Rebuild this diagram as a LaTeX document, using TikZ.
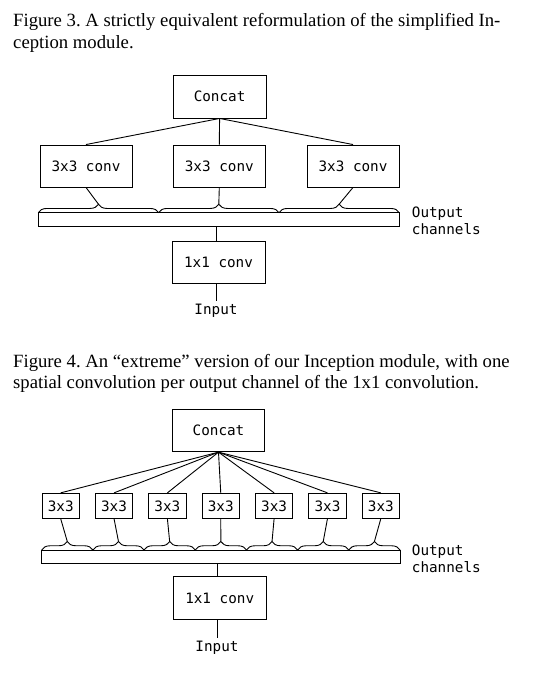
\documentclass[tikz,border=0pt]{standalone}
\usepackage{fontspec}
\setmainfont{Liberation Serif}
\newfontfamily\diagfont{DejaVu Sans Mono}
\usetikzlibrary{decorations.pathreplacing,calc}
\frenchspacing
\begin{document}
\begin{tikzpicture}[x=1pt,y=-1pt,
  box/.style={draw, line width=0.9pt, inner sep=0pt, font=\diagfont\fontsize{14.3}{17}\selectfont},
  wire/.style={line width=0.9pt},
  capt/.style={anchor=base west, inner sep=0pt, font=\fontsize{18.7}{22}\selectfont},
  lbl/.style={inner sep=0pt, font=\diagfont\fontsize{14.3}{17}\selectfont},
  brc/.style={decorate, decoration={brace, amplitude=8.5pt}, line width=0.9pt}]
\useasboundingbox (0,0) rectangle (543,676);

% ---------- Figure 3 ----------
\node[capt] (c3a) at (13,26.5) {Figure 3. A strictly equivalent reformulation of the simplified In-};
\node[capt] (c3b) at (13,48.5) {ception module.};

\node[box, minimum width=93pt, minimum height=43pt] (cc3) at (219.6,96.5) {Concat};
\foreach \i/\x in {1/86,2/219.3,3/353}
  \node[box, minimum width=92pt, minimum height=42pt] (k\i) at (\x,166) {3x3 conv};
\node[box, minimum width=361pt, minimum height=13.3pt] (bar3) at (218.8,219.35) {};
\foreach \i in {1,2,3}{
  \pgfmathsetmacro{\xa}{38.3+120.33*(\i-1)}
  \pgfmathsetmacro{\xb}{\xa+120.33}
  \pgfmathsetmacro{\xm}{\xa+60.17}
  \draw[brc] (\xa,212.7) -- (\xb,212.7);
  \coordinate (t3\i) at (\xm,204.2);
  \draw[wire] (k\i.south) -- (t3\i);
  \draw[wire] (cc3.south) -- (k\i.north);
}
\node[lbl, anchor=west, align=left] (oc3) at (411.7,221) {Output\\channels};
\node[box, minimum width=93pt, minimum height=42pt] (m3) at (218.5,262) {1x1 conv};
\node[lbl] (in3) at (216,311) {Input};
\draw[wire] (bar3.south -| in3) -- (m3.north -| in3);
\draw[wire] (m3.south -| in3) -- ($(in3.north)+(0,-3)$);

% ---------- Figure 4 ----------
\node[capt] (c4a) at (13,367) {Figure 4. An “extreme” version of our Inception module, with one};
\node[capt] (c4b) at (13,388.5) {spatial convolution per output channel of the 1x1 convolution.};

\node[box, minimum width=91.6pt, minimum height=42.4pt] (cc4) at (218.5,430.5) {Concat};
\node[box, minimum width=358.3pt, minimum height=13.3pt] (bar4) at (220.85,556.65) {};
\foreach \i in {1,...,7}{
  \pgfmathsetmacro{\xc}{60.7+53.35*(\i-1)}
  \node[box, minimum width=37.5pt, minimum height=25pt] (s\i) at (\xc,505.8) {3x3};
  \pgfmathsetmacro{\xa}{41.7+51.186*(\i-1)}
  \pgfmathsetmacro{\xb}{\xa+51.186}
  \pgfmathsetmacro{\xm}{\xa+25.593}
  \draw[brc] (\xa,550) -- (\xb,550);
  \coordinate (t4\i) at (\xm,541.5);
  \draw[wire] (s\i.south) -- (t4\i);
  \draw[wire] (cc4.south) -- (s\i.north);
}
\node[lbl, anchor=west, align=left] (oc4) at (411.7,558.5) {Output\\channels};
\node[box, minimum width=92.7pt, minimum height=42.6pt] (m4) at (219.7,598) {1x1 conv};
\node[lbl] (in4) at (217,648) {Input};
\draw[wire] (bar4.south -| in4) -- (m4.north -| in4);
\draw[wire] (m4.south -| in4) -- ($(in4.north)+(0,-3)$);
\end{tikzpicture}
\end{document}
